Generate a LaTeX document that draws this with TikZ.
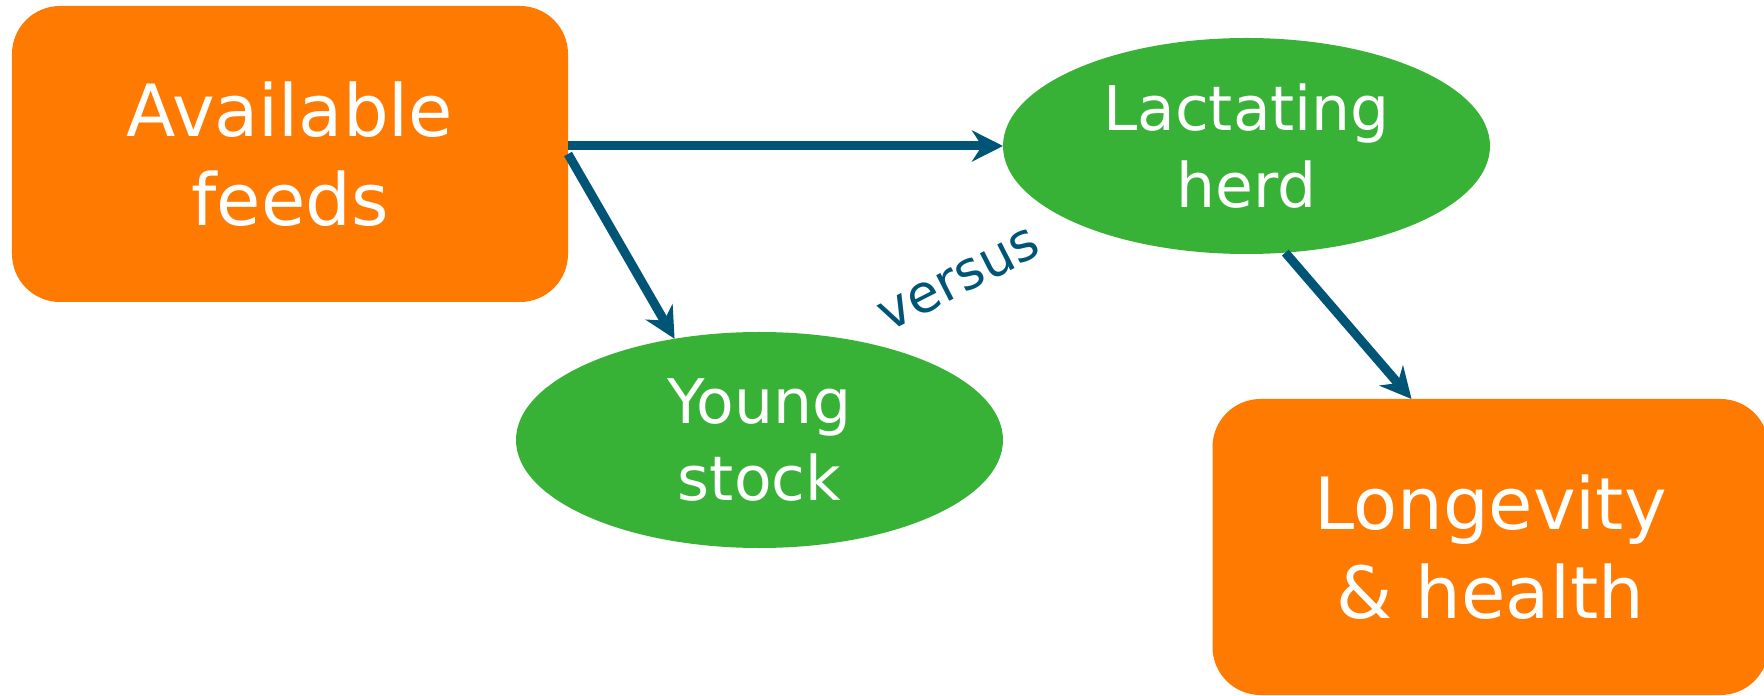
\documentclass[tikz,border=0pt]{standalone}
\usepackage{fontspec}
\setmainfont{DejaVu Sans}
\usetikzlibrary{shapes.geometric,positioning,arrows.meta}
\definecolor{feedorange}{HTML}{FF7A00}
\definecolor{herdgreen}{HTML}{37B236}
\definecolor{arrowblue}{HTML}{005577}
\begin{document}
\begin{tikzpicture}[on grid,
    box/.style={rectangle,rounded corners=0.48cm,fill=feedorange,text=white,
      minimum width=5.56cm,minimum height=2.96cm,inner sep=0pt,outer sep=0pt,
      align=center,font=\fontsize{20.5}{25.3}\selectfont},
    pool/.style={ellipse,fill=herdgreen,text=white,
      minimum width=4.87cm,minimum height=2.16cm,inner sep=0pt,outer sep=0pt,
      align=center,font=\fontsize{17.5}{22}\selectfont},
    flow/.style={-{Stealth[length=0.31cm,width=0.31cm,inset=0.1cm]},
      line width=0.09cm,color=arrowblue}]
  \useasboundingbox (-2.90,1.54) rectangle (14.74,-5.42);
  \node[box] (feeds) {Available\\feeds};
  \node[pool] (herd) [above right=0.08cm and 9.565cm of feeds] {Lactating\\herd};
  \node[pool] (young) [below right=2.86cm and 4.695cm of feeds] {Young\\stock};
  \node[box] (health) [below right=4.01cm and 2.44cm of herd] {Longevity\\\& health};
  \node[text=arrowblue,rotate=27,font=\fontsize{15}{17}\selectfont] (vs)
    [above right=1.60cm and 2.0cm of young] {versus};
  \coordinate (hit) at ([xshift=-0.79cm]health.north);

  \path[flow]
  (feeds.east |- herd.west) edge (herd.west)
  (feeds.east) edge (young.130)
  (herd.290) edge (hit);
\end{tikzpicture}
\end{document}
